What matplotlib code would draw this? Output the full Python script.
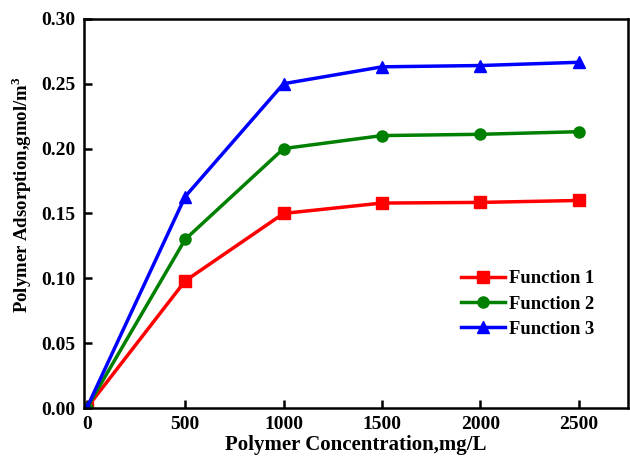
import matplotlib.pyplot as plt
import numpy as np

conc = [0, 500, 1000, 1500, 2000, 2500]
func1 = [0, 0.098, 0.150, 0.158, 0.1585, 0.160]
func2 = [0, 0.130, 0.200, 0.210, 0.211, 0.213]
func3 = [0, 0.163, 0.250, 0.263, 0.264, 0.2665]
labels = ['Function 1', 'Function 2', 'Function 3']

plt.rcParams['font.family'] = ['Liberation Serif', 'DejaVu Serif']
plt.rcParams['font.weight'] = 'bold'
plt.rcParams['mathtext.fontset'] = 'custom'
plt.rcParams['mathtext.rm'] = 'Liberation Serif:bold'

fig = plt.figure(figsize=(6.3, 4.59), dpi=100)
ax = fig.add_axes([0.133, 0.111, 0.864, 0.848])

colors = ['#ff0000', '#008000', '#0000ff']
markers = ['s', 'o', '^']
for data, c, m, lab in zip([func1, func2, func3], colors, markers, labels):
    ax.plot(conc, data, color=c, marker=m, markersize=8, linewidth=2.5, label=lab)

ax.set_xlim(-15, 2750)
ax.set_ylim(0, 0.30)
ax.set_xticks([0, 500, 1000, 1500, 2000, 2500])
ax.set_yticks(np.arange(0, 0.31, 0.05))
ax.yaxis.set_major_formatter(plt.FormatStrFormatter('%.2f'))
ax.tick_params(direction='in', length=6, width=1.8, labelsize=14, pad=6)
for sp in ax.spines.values():
    sp.set_linewidth(1.8)

ax.set_xlabel('Polymer Concentration,mg/L', fontsize=15, fontweight='bold', labelpad=1)
ax.set_ylabel('Polymer Adsorption,gmol/m$^3$', fontsize=13.5, fontweight='bold', labelpad=5)
ax.yaxis.label.set_y(0.548)

ax.legend(loc='center left', bbox_to_anchor=(0.662, 0.267), frameon=False, fontsize=13.3,
          handlelength=2.4, handletextpad=0.2, labelspacing=0.45)

plt.savefig('out.png', dpi=100)
